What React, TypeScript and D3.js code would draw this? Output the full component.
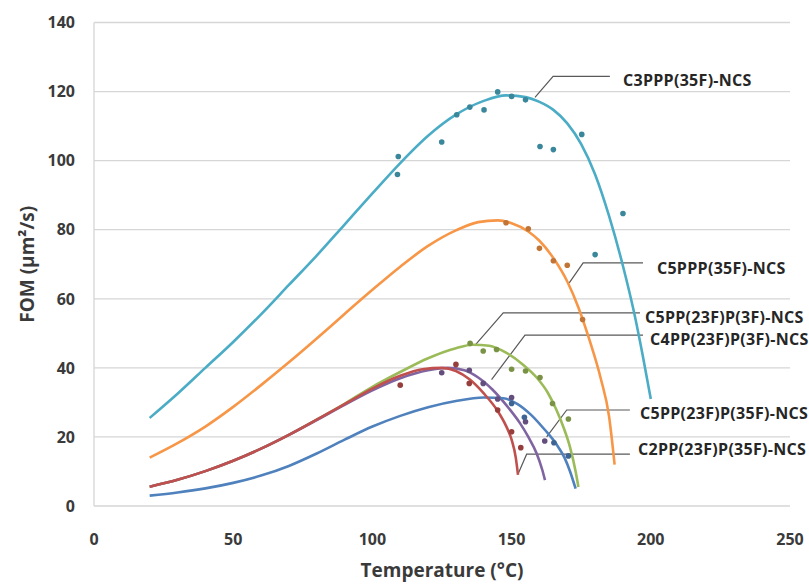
import React from "react";
import * as d3 from "d3";

// fitted curves, [temperature °C, FOM µm²/s]
const c3pppFit: [number, number][] = [
  [20, 25.5], [30, 32.5], [40, 40], [50, 47.5], [60, 55.5], [70, 64], [80, 72.5],
  [90, 81.5], [100, 90.5], [110, 99.3], [120, 107.2], [130, 113.3], [140, 117.3],
  [148, 118.9], [155, 118.4], [160, 117], [165, 114.7], [170, 110.8], [175, 104.8],
  [180, 96], [185, 84], [190, 69.5], [194, 56], [197, 44], [200, 31],
];
const c5pppFit: [number, number][] = [
  [20, 14], [30, 18.2], [40, 23], [50, 28.7], [60, 35], [70, 41.6], [80, 48.5],
  [90, 55.6], [100, 62.6], [110, 69.3], [120, 75.3], [130, 79.8], [138, 82.2],
  [145, 82.7], [150, 81.9], [156, 79.5], [160, 76.8], [165, 71.8], [170, 65],
  [174, 57.5], [178, 48], [182, 37], [185, 26], [187, 12],
];
const c5pp3fFit: [number, number][] = [
  [20, 5.6], [30, 7.6], [40, 10.1], [50, 13.1], [60, 16.6], [70, 20.6], [80, 25],
  [90, 29.6], [100, 34.5], [110, 38.8], [120, 42.8], [130, 45.7], [136, 46.7],
  [142, 46.4], [148, 44.4], [154, 41], [159, 37.2], [163, 32.8], [166, 28],
  [169, 22], [171, 17], [173, 10], [174, 5.5],
];
const c4pp3fFit: [number, number][] = [
  [20, 5.6], [30, 7.6], [40, 10.1], [50, 13.1], [60, 16.6], [70, 20.6], [80, 24.9],
  [90, 29.3], [100, 33.5], [110, 37], [120, 39.3], [127, 40], [133, 39.3],
  [138, 37.2], [143, 33.8], [149, 28.3], [153, 24], [156, 20], [159, 15.2],
  [161, 10.5], [162, 7.5],
];
const c5pp35fFit: [number, number][] = [
  [20, 3], [30, 3.9], [40, 5.1], [50, 6.7], [60, 8.8], [70, 11.6], [80, 15.2],
  [90, 19.2], [100, 23], [110, 26.1], [120, 28.6], [130, 30.4], [140, 31.4],
  [147, 31.2], [152, 29.6], [157, 26.4], [162, 22], [166, 18], [169, 14],
  [171, 10], [173, 5],
];
const c2pp35fFit: [number, number][] = [
  [20, 5.6], [30, 7.6], [40, 10.1], [50, 13.1], [60, 16.6], [70, 20.6], [80, 25],
  [90, 29.5], [100, 34], [110, 37.7], [118, 39.6], [125, 40], [130, 39.1],
  [135, 36.6], [140, 32.6], [145, 27.5], [148, 23.2], [150, 19.2], [151.5, 14],
  [152.3, 9],
];

// measured points
const c3pppPts: [number, number][] = [
  [109.3, 101.2], [109, 96], [124.9, 105.4], [130.3, 113.3], [135, 115.5],
  [140.1, 114.7], [145, 119.9], [150, 118.6], [155, 117.6], [160.2, 104.1],
  [165, 103.2], [175.2, 107.6], [180, 72.8], [190, 84.7],
];
const c5pppPts: [number, number][] = [
  [148, 82], [156, 80.3], [160, 74.6], [165, 71], [170, 69.7], [175.5, 54],
];
const c5pp3fPts: [number, number][] = [
  [135.1, 47.1], [139.8, 44.9], [144.6, 45.3], [150, 39.6], [155, 39.1],
  [160.2, 37.2], [164.7, 29.7], [170.4, 25.2],
];
const c4pp3fPts: [number, number][] = [
  [124.9, 38.6], [134.8, 39.3], [139.8, 35.5], [145, 31], [150, 31.4],
  [155, 24.4], [161.9, 18.8],
];
const c5pp35fPts: [number, number][] = [
  [150, 29.7], [154.6, 25.7], [165.2, 18.3], [170.4, 14.5],
];
const c2pp35fPts: [number, number][] = [
  [110, 35], [130, 41], [134.8, 35.5], [145, 27.8], [150, 21.5], [153.3, 16.9],
];

const seriesNames = [
  "C3PPP(35F)-NCS",
  "C5PPP(35F)-NCS",
  "C5PP(23F)P(3F)-NCS",
  "C4PP(23F)P(3F)-NCS",
  "C5PP(23F)P(35F)-NCS",
  "C2PP(23F)P(35F)-NCS",
];
const seriesColors = ["#4BACC6", "#F79646", "#9BBB59", "#8064A2", "#4F81BD", "#C0504D"];

// label leader lines: curve anchor, elbow, line end (T), label position [T, F]
const leaderAnchor: [number, number][] = [
  [158.4, 118.3], [170.7, 64.6], [136.9, 46.6], [142.8, 36.6], [162.6, 20], [152.4, 9.4],
];
const leaderElbow: [number, number][] = [
  [164.9, 124.4], [175.7, 70.4], [147, 55.9], [154.8, 49.5], [169.8, 27.8], [155.4, 15],
];
const leaderEnd = [185.3, 197.2, 196.1, 197.2, 192.5, 192.5];
const labelPos: [number, number][] = [
  [190, 123.2], [202.2, 68.8], [197.9, 54.7], [199.7, 48.3], [196.1, 26.9], [195.4, 16.5],
];

const xTicks = [0, 50, 100, 150, 200, 250];
const yTicks = [0, 20, 40, 60, 80, 100, 120, 140];

const W = 809;
const H = 585;

const fits = [c3pppFit, c5pppFit, c5pp3fFit, c4pp3fFit, c5pp35fFit, c2pp35fFit];
const pts = [c3pppPts, c5pppPts, c5pp3fPts, c4pp3fPts, c5pp35fPts, c2pp35fPts];

export default function App() {
  const x = d3.scaleLinear().domain([0, 250]).range([94, 790]);
  const y = d3.scaleLinear().domain([0, 140]).range([506, 22.5]);

  const line = d3
    .line<[number, number]>()
    .x((d) => x(d[0]))
    .y((d) => y(d[1]))
    .curve(d3.curveMonotoneX);

  const font = "'Open Sans', sans-serif";

  return (
    <svg
      width={W}
      height={H}
      style={{ position: "absolute", left: 0, top: 0, background: "#fff" }}
      fontFamily={font}
    >
      {/* gridlines */}
      {yTicks.map((t) => (
        <line
          key={"g" + t}
          x1={x(0)}
          x2={x(250)}
          y1={y(t)}
          y2={y(t)}
          stroke="#D6D6D6"
          strokeWidth={1.3}
        />
      ))}
      <line x1={x(0)} x2={x(0)} y1={y(0)} y2={y(140)} stroke="#D6D6D6" strokeWidth={1.3} />

      {/* tick labels */}
      {yTicks.map((t) => (
        <text
          key={"y" + t}
          x={x(0) - 19}
          y={y(t)}
          dy="0.36em"
          textAnchor="end"
          fontSize={16}
          fontWeight={700}
          fill="#3a3a3a"
        >
          {t}
        </text>
      ))}
      {xTicks.map((t) => (
        <text
          key={"x" + t}
          x={x(t)}
          y={539}
          dy="0.36em"
          textAnchor="middle"
          fontSize={16}
          fontWeight={700}
          fill="#3a3a3a"
        >
          {t}
        </text>
      ))}

      {/* axis titles */}
      <text
        x={(x(0) + x(250)) / 2}
        y={570}
        dy="0.36em"
        textAnchor="middle"
        fontSize={19}
        fontWeight={700}
        fill="#3a3a3a"
      >
        Temperature (°C)
      </text>
      <text
        transform={`translate(27,${(y(0) + y(140)) / 2}) rotate(-90)`}
        dy="0.36em"
        textAnchor="middle"
        fontSize={19}
        fontWeight={700}
        fill="#3a3a3a"
      >
        FOM (µm²/s)
      </text>

      {/* leader lines */}
      {seriesNames.map((n, i) => (
        <polyline
          key={"l" + n}
          points={[
            [x(leaderAnchor[i][0]), y(leaderAnchor[i][1])],
            [x(leaderElbow[i][0]), y(leaderElbow[i][1])],
            [x(leaderEnd[i]), y(leaderElbow[i][1])],
          ]
            .map((p) => p.join(","))
            .join(" ")}
          fill="none"
          stroke="#595959"
          strokeWidth={1.2}
        />
      ))}

      {/* fitted curves */}
      {fits.map((f, i) => (
        <path
          key={"c" + i}
          d={line(f) || ""}
          fill="none"
          stroke={seriesColors[i]}
          strokeWidth={2.6}
        />
      ))}

      {/* measured points */}
      {pts.map((p, i) =>
        p.map((d, j) => (
          <circle
            key={"p" + i + "-" + j}
            cx={x(d[0])}
            cy={y(d[1])}
            r={2.8}
            fill={d3.color(seriesColors[i])!.darker(0.7).formatHex()}
          />
        ))
      )}

      {/* labels */}
      {seriesNames.map((n, i) => (
        <text
          key={"t" + n}
          x={x(labelPos[i][0])}
          y={y(labelPos[i][1])}
          dy="0.36em"
          fontSize={16}
          fontWeight={700}
          letterSpacing={0.3}
          fill="#262626"
        >
          {n}
        </text>
      ))}
    </svg>
  );
}
